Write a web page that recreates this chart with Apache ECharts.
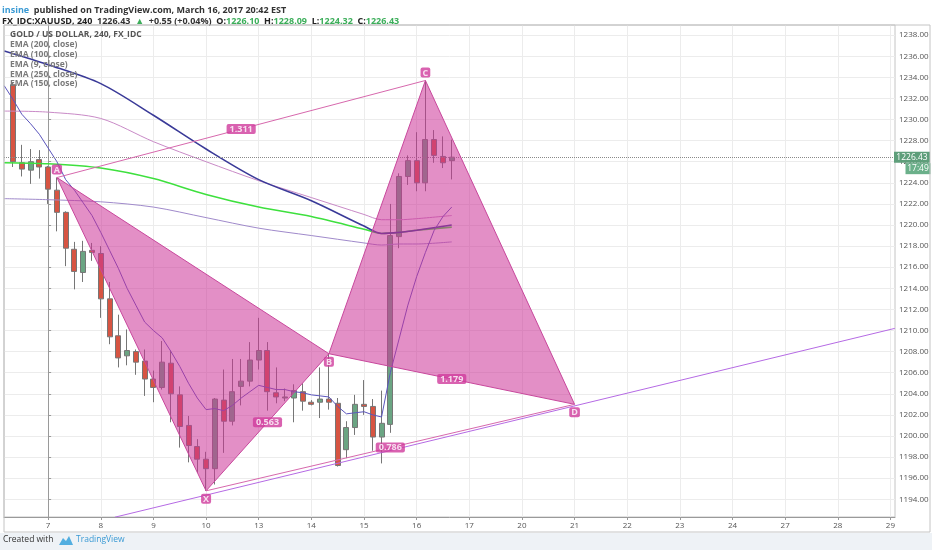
<!DOCTYPE html>
<html><head><meta charset="utf-8">
<script src="https://cdn.jsdelivr.net/npm/echarts@6/dist/echarts.min.js"></script>
<style>html,body{margin:0;padding:0;background:#fff}#c{width:932px;height:550px}</style>
</head><body><div id="c"></div>
<script>
// ---------- tick labels ----------
const dayLabels = ['7','8','9','10','13','14','15','16','17','20','21','22','23','24','27','28','29'];
const dayTickIdx = [0,6,12,18,24,30,36,42,48,54,60,66,72,78,84,90,96];
const yTicks = [1194,1196,1198,1200,1202,1204,1206,1208,1210,1212,1214,1216,1218,1220,1222,1224,1226,1228,1230,1232,1234,1236,1238];

// ---------- 4h candles (bar index, OHLC) ----------
const barIdx = [-4,-3,-2,-1,0,1,2,3,4,5,6,7,8,9,10,11,12,13,14,15,16,17,18,19,20,21,22,23,24,25,26,27,28,29,30,31,32,33,34,35,36,37,38,39,40,41,42,43,44,45,46];
const open  = [1233.3,1225.9,1225.2,1226.2,1225.5,1223.3,1221.2,1217.7,1215.5,1217.6,1217.3,1213.0,1209.5,1207.6,1208.0,1207.1,1205.4,1204.6,1206.9,1203.9,1201.0,1199.0,1197.8,1196.9,1203.4,1201.4,1204.7,1205.2,1207.2,1208.1,1204.1,1203.6,1203.6,1204.2,1203.2,1203.2,1203.5,1203.1,1198.7,1200.8,1203.0,1202.8,1199.9,1201.1,1218.9,1224.6,1226.1,1224.0,1228.1,1226.5,1226.10];
const close = [1226.0,1225.3,1226.0,1225.5,1223.4,1221.2,1217.8,1215.6,1217.5,1217.4,1213.0,1209.4,1207.4,1208.1,1207.0,1205.4,1204.6,1207.0,1204.0,1200.9,1199.1,1197.8,1196.9,1203.5,1201.4,1204.2,1205.2,1207.2,1208.1,1204.2,1203.7,1203.7,1204.3,1203.3,1203.0,1203.5,1203.2,1197.2,1200.8,1203.0,1202.8,1199.9,1201.2,1219.0,1224.6,1226.1,1224.0,1228.1,1226.6,1225.9,1226.43];
const low   = [1225.5,1224.6,1223.9,1224.4,1222.0,1219.4,1216.1,1213.9,1214.6,1216.6,1211.2,1208.7,1206.5,1206.7,1205.8,1203.8,1203.2,1204.4,1201.3,1198.9,1197.5,1196.5,1194.8,1195.4,1198.4,1201.0,1202.9,1204.7,1206.3,1202.4,1203.1,1203.3,1201.3,1202.4,1202.9,1201.7,1202.5,1197.1,1197.9,1200.1,1202.0,1198.6,1197.4,1200.3,1217.8,1223.8,1223.2,1223.2,1225.9,1225.4,1224.32];
const high  = [1233.5,1227.6,1227.2,1227.1,1225.6,1224.5,1221.3,1218.4,1218.5,1218.3,1218.0,1214.6,1211.5,1210.1,1208.2,1208.2,1206.2,1209.0,1208.1,1204.7,1201.9,1199.7,1198.5,1203.6,1206.3,1207.3,1207.3,1208.9,1211.2,1208.9,1206.5,1204.5,1204.9,1205.0,1203.4,1206.5,1207.8,1203.6,1201.4,1203.9,1205.3,1203.5,1204.3,1222.0,1224.9,1226.6,1228.8,1233.7,1229.0,1228.4,1228.09];

// ---------- EMAs ----------
const ema9Idx = [-5,-4,-3,-2,-1,0,1,2,3,4,5,6,7,8,9,10,11,12,13,14,15,16,17,18,19,20,21,22,23,24,25,26,27,28,29,30,31,32,33,34,35,36,37,38,39,40,41,42,43,44,45,46];
const ema9 = [1233.2,1231.9,1230.5,1229.6,1228.6,1227.3,1226.0,1224.3,1223.3,1222.1,1220.9,1219.3,1217.6,1215.9,1214.0,1212.4,1210.8,1210.0,1209.3,1208.0,1206.6,1205.0,1203.6,1202.5,1202.6,1202.4,1202.9,1203.6,1204.2,1204.8,1204.6,1204.4,1204.4,1204.2,1204.1,1203.9,1203.8,1203.7,1202.8,1202.1,1202.2,1202.3,1202.0,1201.8,1206.0,1209.2,1212.4,1215.1,1217.4,1219.5,1220.8,1221.7];
const emaIdx = [-5,0,6,12,18,24,30,36,38,40,42,46];
const ema100 = [1236.5,1235.2,1233.4,1230.4,1227.2,1224.3,1222.3,1219.9,1219.2,1219.3,1219.5,1220.0];
const ema200 = [1225.9,1225.8,1225.4,1224.4,1222.9,1221.7,1220.8,1219.6,1219.2,1219.3,1219.5,1219.8];
const ema150 = [1230.8,1230.7,1230.1,1227.9,1226.0,1224.2,1222.6,1221.0,1220.5,1220.5,1220.6,1220.9];
const ema250 = [1222.5,1222.4,1222.2,1221.7,1220.7,1219.7,1219.0,1218.3,1218.1,1218.2,1218.2,1218.4];

// ---------- drawings ----------
const pointNames = ['X','A','B','C','D'];
const pointIdx   = [18,1,32,43,60];
const pointPrice = [1194.8,1224.5,1207.8,1233.7,1203.0];
const triangles  = [['X','A','B'],['B','C','D']];
const ratioText = ['1.311','0.563','1.179','0.786'];
const ratioFrom = ['A','X','B','X'];
const ratioTo   = ['C','B','D','D'];
const extraLines = [['A','C'],['X','D']];
const trendIdx   = [7.6, 96.5];
const trendPrice = [1192.3, 1210.2];
const lastPrice = 1226.43;
const priceTag = ['1226.43','17:49'];
const emaNames = ['EMA (200, close)','EMA (100, close)','EMA (9, close)','EMA (250, close)','EMA (150, close)'];

// ---------- build ----------
const P = n => pointNames.indexOf(n);
const pt = n => [pointIdx[P(n)], pointPrice[P(n)]];
const candles = barIdx.map((x,i)=>[x, open[i], close[i], low[i], high[i]]);
const zip = (xs, ys) => xs.map((x,i)=>[x, ys[i]]);
const above = {A:true, C:true};

const chart = echarts.init(document.getElementById('c'), null, {renderer:'canvas'});
const F = 'Open Sans';
const tagStyle = {backgroundColor:'#cf3b9c', color:'#fff', fontSize:9, fontWeight:'bold', padding:[1,3,0,3], borderRadius:2, fontFamily:F};

const option = {
  animation:false,
  backgroundColor:'#ffffff',
  textStyle:{fontFamily:F},
  title:[
    {left:2, top:1, padding:0, text:'{u|insine} {t|published on TradingView.com, March 16, 2017 20:42 EST}',
     textStyle:{rich:{u:{color:'#3a9ad4',fontSize:9,fontFamily:F},t:{color:'#333',fontSize:9,fontFamily:F}}}},
    {left:2, top:12, padding:0,
     text:'{b|FX_IDC:XAUUSD, 240} {n|1226.43} {g|▲} {n|+0.55 (+0.04%)} {k|O:}{g|1226.10} {k|H:}{g|1228.09} {k|L:}{g|1224.32} {k|C:}{g|1226.43}',
     textStyle:{rich:{b:{color:'#222',fontWeight:'bold',fontSize:9,fontFamily:F},n:{color:'#333',fontSize:9,fontFamily:F},
       g:{color:'#3cae5a',fontSize:9,fontFamily:F},k:{color:'#222',fontWeight:'bold',fontSize:9,fontFamily:F}}}},
    {left:10, top:30, padding:0,
     text:['{h|GOLD / US DOLLAR, 240, FX_IDC}'].concat(emaNames.map(s=>'{e|'+s+'}')).join('\n'),
     textStyle:{rich:{h:{color:'#555',fontWeight:'bold',fontSize:8.5,lineHeight:9.8,fontFamily:F},e:{color:'#7a7a7a',fontSize:8.5,lineHeight:9.8,fontFamily:F}}}},
    {left:3, top:535, padding:0, text:'{c|Created with}', textStyle:{rich:{c:{color:'#333',fontSize:8.5,fontWeight:'normal',fontFamily:F}}}},
    {left:76, top:535, padding:0, text:'{c|TradingView}', textStyle:{rich:{c:{color:'#3a9ad4',fontSize:8.5,fontWeight:'normal',fontFamily:F}}}}
  ],
  graphic:[
    {type:'rect', silent:true, z:-10, shape:{x:0,y:533,width:932,height:17}, style:{fill:'#eef2f6'}},
    {type:'rect', silent:true, z:100, shape:{x:4,y:25,width:926,height:507}, style:{fill:'none',stroke:'#c4c4c4',lineWidth:1}},
    {type:'polygon', silent:true, shape:{points:[[59,545],[63,538],[66,541],[69,536],[73,545]]}, style:{fill:'#52aee0'}}
  ],
  grid:{left:4, right:37, top:25, bottom:33, show:true, borderColor:'#c4c4c4', borderWidth:1},
  xAxis:{type:'value', min:-5.03, max:96.52,
    axisLine:{show:true, onZero:false, lineStyle:{color:'#9a9a9a'}},
    axisTick:{show:true, length:3, customValues:dayTickIdx, lineStyle:{color:'#9a9a9a'}},
    axisLabel:{customValues:dayTickIdx, formatter:v=>dayLabels[dayTickIdx.indexOf(v)], fontSize:8, color:'#555', margin:5},
    splitLine:{show:true, lineStyle:{color:'#ececec'}}},
  yAxis:{type:'value', position:'right', min:1192.32, max:1238.96, scale:true,
    axisLine:{show:true, lineStyle:{color:'#9a9a9a'}},
    axisTick:{show:true, length:3, customValues:yTicks, lineStyle:{color:'#9a9a9a'}},
    axisLabel:{customValues:yTicks, formatter:v=>v.toFixed(2), fontSize:8, color:'#555', margin:4},
    splitLine:{show:true, lineStyle:{color:'#ececec'}}},
  series:[
    {type:'candlestick', name:'XAUUSD', z:2, barWidth:5.5, data:candles, encode:{x:0, y:[1,2,3,4]},
     itemStyle:{color:'#6ba583', color0:'#d75442', borderColor:'#767676', borderColor0:'#767676', borderWidth:1}},
    {type:'line', name:'EMA 250', z:3, data:zip(emaIdx, ema250), smooth:0.3, showSymbol:false, lineStyle:{color:'#a08acb', width:1}},
    {type:'line', name:'EMA 150', z:3, data:zip(emaIdx, ema150), smooth:0.3, showSymbol:false, lineStyle:{color:'#c98ac7', width:1}},
    {type:'line', name:'EMA 200', z:3, data:zip(emaIdx, ema200), smooth:0.3, showSymbol:false, lineStyle:{color:'#3ee03e', width:1.6}},
    {type:'line', name:'EMA 100', z:3, data:zip(emaIdx, ema100), smooth:0.3, showSymbol:false, lineStyle:{color:'#3a3a98', width:1.6}},
    {type:'line', name:'EMA 9', z:3, data:zip(ema9Idx, ema9), showSymbol:false, lineStyle:{color:'#5b55bd', width:1}},
    {type:'line', name:'trend', z:4, data:zip(trendIdx, trendPrice), showSymbol:false, lineStyle:{color:'#b56ae4', width:1}},
    {type:'custom', name:'pattern', z:5, silent:true,
     data: triangles.map(t=>[].concat(pt(t[0]), pt(t[1]), pt(t[2]))),
     encode:{x:[0,2,4], y:[1,3,5]},
     renderItem:(params, api)=>{
       const pts=[0,1,2].map(k=>api.coord([api.value(2*k), api.value(2*k+1)]));
       return {type:'polygon', shape:{points:pts}, style:{fill:'rgba(204,51,151,0.55)', stroke:'#c8479c', lineWidth:1}};
     }},
    ...extraLines.map(l=>({type:'line', z:6, data:[pt(l[0]), pt(l[1])], showSymbol:false, lineStyle:{color:'#d768ad', width:1}})),
    {type:'scatter', name:'points', z:10, symbolSize:0, silent:true,
     data: pointNames.map((n,i)=>({value:[pointIdx[i], pointPrice[i]], name:n,
       label:{show:true, position: above[n]?'top':'bottom', distance:3, formatter:'{b}', ...tagStyle, padding:[1,2,0,2]}}))},
    {type:'scatter', name:'ratios', z:10, symbolSize:0, silent:true,
     data: ratioText.map((r,i)=>{const a=pt(ratioFrom[i]), b=pt(ratioTo[i]);
       return {value:[(a[0]+b[0])/2, (a[1]+b[1])/2], name:r, label:{show:true, position:'inside', formatter:'{b}', ...tagStyle}};})},
    {type:'line', name:'last', z:7, data:[[barIdx[barIdx.length-1], lastPrice]], showSymbol:false, silent:true,
     markLine:{silent:true, symbol:'none', label:{show:false}, lineStyle:{color:'#8a8a8a', type:'dotted', width:1},
       data:[{yAxis:lastPrice}]},
     markPoint:{silent:true, data:[
       {coord:[96.52, lastPrice], symbol:'rect', symbolSize:[36,11], symbolOffset:[17,0], itemStyle:{color:'#5e9e7a'},
        label:{show:true, position:'inside', formatter:priceTag[0], color:'#fff', fontSize:8.5}},
       {coord:[96.52, lastPrice], symbol:'rect', symbolSize:[25,11], symbolOffset:[23,11.5], itemStyle:{color:'#6bb08a'},
        label:{show:true, position:'inside', formatter:priceTag[1], color:'#fff', fontSize:8.5}}
     ]}}
  ]
};
chart.setOption(option);
</script></body></html>
